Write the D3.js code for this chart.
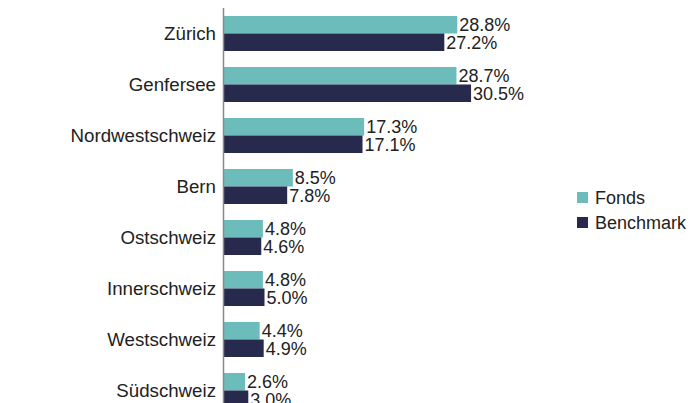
<!DOCTYPE html>
<html lang="de">
<head>
  <meta charset="UTF-8">
  <title>Regionen</title>
  <script src="https://d3js.org/d3.v7.min.js"></script>
  <style>
    body { margin: 0; background: #fff; }
    text { font-family: "Liberation Sans", Arial, Helvetica, sans-serif; fill: #222; }
  </style>
</head>
<body>
  <svg width="699" height="403"></svg>
<script>
  // Daten
  const regions = ["Zürich", "Genfersee", "Nordwestschweiz", "Bern", "Ostschweiz", "Innerschweiz", "Westschweiz", "Südschweiz"];
  const fonds = [28.8, 28.7, 17.3, 8.5, 4.8, 4.8, 4.4, 2.6];
  const benchmark = [27.2, 30.5, 17.1, 7.8, 4.6, 5.0, 4.9, 3.0];
  const seriesNames = ["Fonds", "Benchmark"];
  const colors = ["#6dbcbc", "#272a4d"];

  const svg = d3.select("svg");
  const x0 = 224;

  const x = d3.scaleLinear().domain([0, 10]).range([x0, x0 + 81]);

  const y = d3.scaleBand()
    .domain(regions)
    .range([8, 416])
    .paddingInner(0.314)
    .paddingOuter(0.157);

  const ySub = d3.scaleBand()
    .domain(seriesNames)
    .range([0, y.bandwidth()]);

  const rows = regions.map((r, i) => ({ region: r, values: [fonds[i], benchmark[i]] }));

  const g = svg.selectAll("g.row")
    .data(rows)
    .enter()
    .append("g")
    .attr("class", "row")
    .attr("transform", d => "translate(0," + y(d.region) + ")");

  g.selectAll("rect")
    .data(d => d.values.map((v, k) => ({ v: v, s: seriesNames[k], k: k })))
    .enter()
    .append("rect")
    .attr("x", x0)
    .attr("y", d => ySub(d.s))
    .attr("width", d => x(d.v) - x0)
    .attr("height", ySub.bandwidth())
    .attr("fill", d => colors[d.k]);

  // Werte
  g.selectAll("text.val")
    .data(d => d.values.map((v, k) => ({ v: v, s: seriesNames[k] })))
    .enter()
    .append("text")
    .attr("class", "val")
    .attr("x", d => x(d.v) + 2)
    .attr("y", d => ySub(d.s) + ySub.bandwidth() / 2)
    .attr("dy", "0.36em")
    .attr("font-size", "18px")
    .text(d => d.v.toFixed(1) + "%");

  // Kategorien
  g.append("text")
    .attr("x", x0 - 8)
    .attr("y", y.bandwidth() / 2)
    .attr("dy", "0.36em")
    .attr("text-anchor", "end")
    .attr("font-size", "18.7px")
    .text(d => d.region);

  // Achse
  svg.append("line")
    .attr("x1", x0 - 0.5).attr("x2", x0 - 0.5)
    .attr("y1", 8).attr("y2", 416)
    .attr("stroke", "#8a8a8a")
    .attr("stroke-width", 1.5);

  // Legende
  const legend = svg.append("g").attr("transform", "translate(577,192)");
  seriesNames.forEach((s, i) => {
    legend.append("rect")
      .attr("x", 0).attr("y", i * 25)
      .attr("width", 11).attr("height", 11)
      .attr("fill", colors[i]);
    legend.append("text")
      .attr("x", 18).attr("y", i * 25 + 5.5)
      .attr("dy", "0.36em")
      .attr("font-size", "18px")
      .text(s);
  });
</script>
</body>
</html>
